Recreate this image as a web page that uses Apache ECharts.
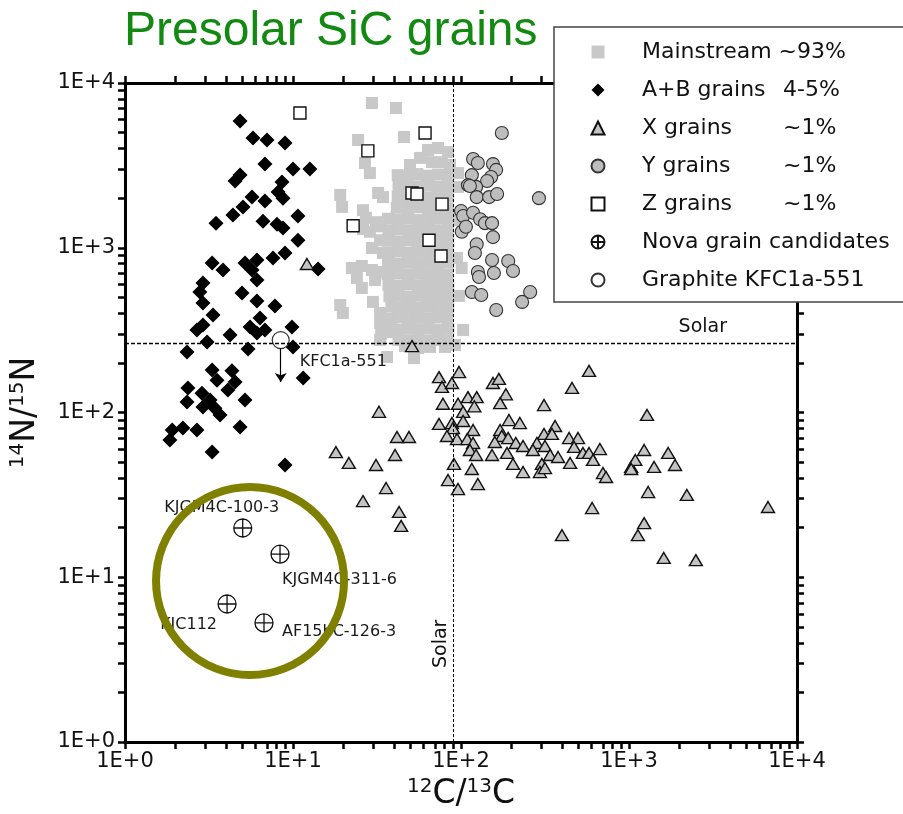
<!DOCTYPE html>
<html><head><meta charset="utf-8">
<script src="https://cdn.jsdelivr.net/npm/echarts@6/dist/echarts.min.js"></script>
<style>html,body{margin:0;padding:0;background:#fff}#c{width:903px;height:814px}</style>
</head><body><div id="c"></div>
<script>
// ---------------- data ----------------
const legendNames = ['Mainstream ~93%', 'A+B grains   4-5%', 'X grains    ~1%', 'Y grains    ~1%', 'Z grains     ~1%', 'Nova grain candidates', 'Graphite KFC1a-551'];
const majorTicks = [1, 10, 100, 1000, 10000];
const tickLabels = ['1E+0', '1E+1', '1E+2', '1E+3', '1E+4'];
const xTickValues = [1,2,3,4,5,6,7,8,9,10,20,30,40,50,60,70,80,90,100,200,300,400,500,600,700,800,900,1000,2000,3000,4000,5000,6000,7000,8000,9000,10000];
const yTickValues = [1,2,3,4,5,6,7,8,9,10,20,30,40,50,60,70,80,90,100,200,300,400,500,600,700,800,900,1000,2000,3000,4000,5000,6000,7000,8000,9000,10000];
const solarC = 90;    // solar 12C/13C
const solarN = 265;   // solar 14N/15N (as drawn)

const mainstream = [
 [29.5,7560],[41.0,7050],[24.4,4510],[45.8,4700],[26.8,3270],[28.7,2840],[49.7,3180],[57.0,3510],[63.6,3920],[73.0,4030],[83.7,3810],[67.2,3310],[77.1,3310],[86.0,3180],
 [19.1,2090],[19.6,1770],[26.1,1690],[32.1,2150],[34.3,2030],
 [27.2,1520],[31.2,1430],[26.1,1300],[33.5,1350],[28.7,1250],[33.0,1110],[29.5,996],[34.3,929],
 [22.4,753],[25.7,775],[29.5,733],[33.9,713],[24.0,655],[30.8,637],[25.7,570],
 [19.1,449],[29.9,469],[33.0,402],[19.8,402],[33.0,349],[37.8,308],[33.5,300],[35.5,320],[33.0,276],
 [96.0,2840],[96.0,2340],[93.4,1470],[94.7,867],[101,753],[97.3,510],[103,317],
 [46.4,253],[55.5,246],[65.4,250],[80.3,250],[92.1,257],[52.5,214],[36.3,217],
 [42,2760],[48.5,2700],[55,2800],[64,2740],[73,2780],[84,2720],
 [42.5,2350],[48,2400],[56,2360],[63,2390],[72.5,2340],[83,2380],
 [42,2040],[49,2010],[55.5,2050],[64,2020],[73.5,2000],[84,2040],
 [41.5,1750],[48.5,1720],[55,1760],[63.5,1730],[73,1750],[83.5,1720],
 [36.8,1500],[42,1480],[48,1500],[56,1470],[64,1490],[72.5,1500],[84,1480],
 [37,1270],[42.5,1290],[48.5,1270],[55.5,1290],[63,1280],[73,1270],[83.5,1290],
 [36.5,1110],[42,1090],[49,1110],[55,1100],[64,1090],[73.5,1110],[84,1100],
 [37,940],[42.5,950],[48,935],[56,945],[63.5,940],[72.5,950],[83,935],
 [36.8,810],[42,800],[48.5,815],[55.5,805],[64,810],[73,800],[84,815],
 [36.5,690],[42.5,700],[48,690],[55,695],[63.5,690],[73.5,700],[83.5,690],
 [37,595],[42,590],[48.5,600],[56,590],[64,595],[73,600],[84,590],
 [37.5,508],[42.5,512],[48,505],[55.5,512],[63,508],[72.5,510],[83.5,505],
 [38.5,440],[42,435],[49,440],[55,434],[64,438],[73.5,436],[84,440],
 [38,372],[42.5,378],[48.5,374],[56,376],[63.5,372],[73,378],[83,374],
 [38.5,322],[42,318],[48,322],[55.5,320],[64,324],[72.5,318],[84,322],
 [42.5,276],[48.5,272],[55,278],[63.5,274],[73,276],[83.5,273]
];

const abGrains = [
 [4.84,5880],[5.78,4640],[7.00,4510],[8.96,4330],[6.81,3220],[10.0,3010],[12.6,3010],[4.84,2760],[4.52,2540],[8.60,2510],
 [8.15,2180],[5.70,2030],[6.81,1920],[8.72,2000],[5.04,1770],[4.39,1580],[10.7,1560],[3.48,1410],[6.63,1450],[8.03,1390],
 [8.72,1320],[10.7,1110],[8.96,929],[7.60,867],[6.10,843],[5.18,808],[3.30,808],[3.83,733],[5.70,733],[14.1,743],
 [6.10,637],[2.91,611],[2.79,539],[4.97,531],[2.91,462],[6.10,475],[7.81,443],[3.34,391],[6.36,375],[2.91,340],
 [9.86,330],[2.68,317],[5.55,330],[4.22,295],[6.10,304],[6.81,317],[3.08,268],[2.34,233],[5.40,243],[10.0,250],
 [3.30,181],[4.33,179],[11.5,162],[3.53,157],[2.37,141],[2.87,131],[4.52,153],[4.10,137],[2.34,116],[3.21,119],
 [3.43,106],[2.91,108],[3.68,96.6],[5.18,119],[4.84,81.7],[1.91,78.3],[2.21,80.5],[2.68,78.3],[1.85,68.1],[3.30,57.5],
 [8.96,48.0]
];

const xGrains = [
 [74.0,164],[97.3,176],[77.1,143],[88.3,151],[155,151],[168,160],[578,179],[458,141],[185,129],[110,124],
 [124,124],[171,114],[78.1,113],[96.0,113],[120,109],[312,111],[103,101],[32.5,101],[1280,96.6],[193,90.0],
 [224,86.3],[74.0,85.2],[88.3,86.3],[103,88.8],[363,82.8],[89.6,80.5],[118,78.3],[171,78.3],[82.5,72.0],[41.6,71.0],
 [49.0,71.0],[94.7,69.0],[109,69.0],[175,72.0],[191,70.0],[312,74.1],[348,74.1],[440,70.0],[497,70.0],[118,65.3],
 [159,66.2],[212,65.3],[234,62.6],[283,65.3],[316,62.6],[471,61.8],[18.0,57.5],[40.5,55.2],[113,59.2],[123,55.2],
 [153,55.2],[188,56.8],[268,59.2],[339,55.2],[378,53.7],[532,56.8],[578,56.8],[671,60.0],[1230,59.2],[1710,56.8],
 [21.5,49.4],[31.2,48.0],[90.8,48.7],[204,48.7],[303,48.7],[446,49.4],[611,51.5],[1030,46.7],[1090,51.5],[1410,46.7],
 [1880,48.0],[116,45.4],[234,43.5],[295,43.5],[316,46.0],[700,42.9],[730,40.6],[1030,45.4],[83.7,38.9],[126,36.8],
 [96.0,34.3],[35.8,34.8],[1300,32.9],[2210,31.6],[26.1,29.0],[42.8,24.9],[44.0,20.5],[603,26.3],[6720,26.7],[1230,21.3],
 [1130,18.0],[399,18.0],[1610,13.1],[2500,12.7],[12.1,797],[51.1,253]
];

const yGrains = [
 [175,4970],[118,3460],[126,3270],[155,3220],[162,2970],[116,2760],[151,2690],[143,2540],[110,2400],[123,2340],
 [113,2370],[124,2030],[147,2030],[164,2120],[291,2000],[100,1670],[103,1560],[118,1630],[130,1490],[139,1410],
 [153,1410],[101,1250],[107,1340],[155,1160],[124,1050],[121,929],[153,843],[191,831],[204,722],[126,713],
 [128,664],[157,703],[116,539],[132,517],[258,539],[231,469],[162,419]
];

const zGrains = [[11.0,6580],[61.1,4970],[27.9,3870],[51.1,2150],[54.7,2120],[77.1,1840],[22.8,1360],[64.5,1110],[76.0,891]];

const novaNames = ['KJGM4C-100-3', 'KJGM4C-311-6', 'KJC112', 'AF15bC-126-3'];
const novaX = [5.02, 8.37, 4.05, 6.72];
const novaY = [19.9, 13.8, 6.88, 5.28];

const graphiteName = 'KFC1a-551';
const graphite = [8.45, 275];
const graphiteArrow = [[8.45, 245], [8.45, 153]];

const novaCircle = [[5.55, 9.49]];

// ---------------- styling ----------------
const FONT = 'DejaVu Sans';
const novaPath = 'path://M0,10A10,10,0,1,0,20,10A10,10,0,1,0,0,10ZM0,10L20,10M10,0L10,20';
const novaLabelStyle = [
  {align: 'center', offset: [-21, -20]},
  {align: 'left', offset: [2, 26]},
  {align: 'right', offset: [-10, 21]},
  {align: 'left', offset: [18, 9]}
];

function tickLabel(v) {
  for (let i = 0; i < majorTicks.length; i++) {
    if (Math.abs(Math.log10(majorTicks[i]) - Math.log10(v)) < 1e-6) return tickLabels[i];
  }
  return '';
}

function mkAxis(pos, showLabel, ticks) {
  return {
    type: 'log', logBase: 10, min: 1, max: 10000, position: pos, gridIndex: 0,
    axisLine: {show: true, onZero: false, lineStyle: {color: '#000', width: 3}},
    axisTick: {show: true, inside: false, length: 7, lineStyle: {color: '#000', width: 2.5}, customValues: ticks},
    axisLabel: {show: showLabel, customValues: majorTicks, formatter: tickLabel, fontFamily: FONT, fontSize: 21, color: '#111', margin: 9},
    splitLine: {show: false}, minorTick: {show: false}, minorSplitLine: {show: false}
  };
}

const xBottom = mkAxis('bottom', true, xTickValues);
xBottom.name = '{sup|12}{b|C/}{sup|13}{b|C}';
xBottom.nameLocation = 'middle';
xBottom.nameGap = 35;
xBottom.nameTextStyle = {rich: {
  b: {fontFamily: FONT, fontSize: 33, color: '#111', lineHeight: 35},
  sup: {fontFamily: FONT, fontSize: 20, color: '#111', verticalAlign: 'top', lineHeight: 20}
}};
const xTop = mkAxis('top', false, xTickValues);

const yLeft = mkAxis('left', true, yTickValues);
yLeft.axisLabel.margin = 10;
yLeft.name = '{sup|14}{b|N/}{sup|15}{b|N}';
yLeft.nameLocation = 'middle';
yLeft.nameRotate = 90;
yLeft.nameGap = 82;
yLeft.nameTextStyle = {rich: {
  b: {fontFamily: FONT, fontSize: 33, color: '#111', lineHeight: 35},
  sup: {fontFamily: FONT, fontSize: 20, color: '#111', verticalAlign: 'top', lineHeight: 20}
}};
const yRight = mkAxis('right', false, yTickValues);

const option = {
  animation: false,
  backgroundColor: '#fff',
  title: {
    text: 'Presolar SiC grains', left: 124, top: 9, padding: 0,
    textStyle: {fontFamily: 'Liberation Sans', fontSize: 48, fontWeight: 'normal', color: '#128a12', lineHeight: 46}
  },
  legend: {
    data: legendNames, orient: 'vertical', left: 554, top: 27,
    padding: [13, 40, 10, 36.5], itemGap: 14, itemWidth: 13, itemHeight: 13,
    backgroundColor: '#fff', borderColor: '#444', borderWidth: 1.5, borderRadius: 0,
    selectedMode: false,
    itemStyle: {opacity: 1},
    formatter: function (name) {
      const p = name.split(/\s{2,}/);
      return p.length > 1 ? '{a|' + p[0] + '}{b|' + p[1] + '}' : '{b|' + name + '}';
    },
    textStyle: {
      fontFamily: FONT, fontSize: 22, color: '#111', padding: [0, 0, 0, 32.5], lineHeight: 24,
      rich: {
        a: {fontFamily: FONT, fontSize: 22, color: '#111', width: 141, lineHeight: 24},
        b: {fontFamily: FONT, fontSize: 22, color: '#111', lineHeight: 24}
      }
    }
  },
  grid: {left: 125, top: 83, right: 106, bottom: 72, containLabel: false, outerBoundsMode: 'none'},
  xAxis: [xBottom, xTop],
  yAxis: [yLeft, yRight],
  series: [
    {
      name: legendNames[0], type: 'scatter', xAxisIndex: 0, yAxisIndex: 0,
      symbol: 'rect', symbolSize: 12, itemStyle: {color: '#c8c8c8', opacity: 1}, data: mainstream, z: 2,
      emphasis: {disabled: true},
      markLine: {
        silent: true, symbol: ['none', 'none'], animation: false,
        lineStyle: {color: '#000', width: 1.4, type: [4, 2], opacity: 1},
        label: {fontFamily: FONT, fontSize: 19, color: '#111'},
        emphasis: {disabled: true},
        data: [
          {xAxis: solarC, lineStyle: {color: '#000', width: 1, type: [3, 2]},
           label: {show: true, formatter: 'Solar', position: 'insideStartTop', distance: [74, 3], fontFamily: FONT, fontSize: 19, color: '#111'}},
          {yAxis: solarN,
           label: {show: true, formatter: 'Solar', position: 'insideEndTop', distance: [70, 6], fontFamily: FONT, fontSize: 19, color: '#111'}}
        ]
      }
    },
    {
      name: legendNames[1], type: 'scatter', symbol: 'diamond', symbolSize: 15,
      itemStyle: {color: '#000', opacity: 1}, data: abGrains, z: 2, emphasis: {disabled: true}
    },
    {
      name: legendNames[2], type: 'scatter', symbol: 'triangle', symbolSize: [13, 11],
      itemStyle: {color: '#c4c4c4', borderColor: '#111', borderWidth: 1.4, opacity: 1}, data: xGrains, z: 2, emphasis: {disabled: true}
    },
    {
      name: legendNames[3], type: 'scatter', symbol: 'circle', symbolSize: 13,
      itemStyle: {color: '#bdbdbd', borderColor: '#333', borderWidth: 1.1, opacity: 1}, data: yGrains, z: 2, emphasis: {disabled: true}
    },
    {
      name: legendNames[4], type: 'scatter', symbol: 'rect', symbolSize: 12,
      itemStyle: {color: '#fff', borderColor: '#111', borderWidth: 1.4, opacity: 1}, data: zGrains, z: 3, emphasis: {disabled: true}
    },
    {
      name: legendNames[5], type: 'scatter', symbol: novaPath, symbolSize: 18,
      itemStyle: {color: 'rgba(255,255,255,0)', borderColor: '#111', borderWidth: 1.3, opacity: 1},
      data: novaNames.map(function (n, i) { return {name: n, value: [novaX[i], novaY[i]], label: novaLabelStyle[i]}; }),
      label: {show: true, formatter: '{b}', position: 'inside', verticalAlign: 'middle', fontFamily: FONT, fontSize: 16, color: '#1a1a1a'},
      z: 3, emphasis: {disabled: true}
    },
    {
      name: legendNames[6], type: 'scatter', symbol: 'circle', symbolSize: 17,
      itemStyle: {color: '#fff', borderColor: '#333', borderWidth: 1.2, opacity: 1},
      data: [{name: graphiteName, value: graphite}],
      label: {show: true, formatter: '{b}', position: 'inside', align: 'left', verticalAlign: 'middle', offset: [19, 22], fontFamily: FONT, fontSize: 16, color: '#1a1a1a'},
      z: 4, emphasis: {disabled: true},
      markLine: {
        silent: true, animation: false, symbol: ['none', 'arrow'], symbolSize: 9,
        lineStyle: {color: '#000', width: 1.2, type: 'solid', opacity: 1},
        label: {show: false}, emphasis: {disabled: true},
        data: [[{coord: graphiteArrow[0]}, {coord: graphiteArrow[1]}]]
      }
    },
    {
      name: 'nova-highlight', type: 'scatter', symbol: 'circle', symbolSize: 188, silent: true,
      itemStyle: {color: 'rgba(0,0,0,0)', borderColor: '#808000', borderWidth: 8, opacity: 1},
      data: novaCircle, z: 5, emphasis: {disabled: true}
    }
  ]
};

const chart = echarts.init(document.getElementById('c'), null, {renderer: 'canvas'});
chart.setOption(option);
</script></body></html>
